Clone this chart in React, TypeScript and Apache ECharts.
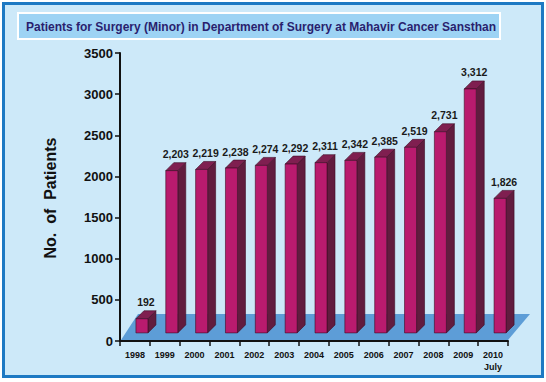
import React, { useEffect, useRef } from "react";
import * as echarts from "echarts";

const categories = ["1998", "1999", "2000", "2001", "2002", "2003", "2004", "2005", "2006", "2007", "2008", "2009", "2010\nJuly"];
const patients = [192, 2203, 2219, 2238, 2274, 2292, 2311, 2342, 2385, 2519, 2731, 3312, 1826];
const yTicks = { min: 0, max: 3500, interval: 500 };
const titleText = "Patients for Surgery (Minor) in Department of Surgery at Mahavir Cancer Sansthan";
const yAxisTitle = "No.  of  Patients";

const FONT = "Liberation Sans, Arial, sans-serif";

export default function App() {
  const ref = useRef<HTMLDivElement>(null);
  useEffect(() => {
    document.body.style.margin = "0";
    const chart = echarts.init(ref.current!, null, { renderer: "svg" });
    const DX = 8;
    const DY = 8;
    const option: any = {
      animation: false,
      backgroundColor: "#ffffff",
      graphic: [
        {
          type: "rect",
          z: -10,
          shape: { x: 3.5, y: 3.5, width: 539, height: 373 },
          style: { fill: "#cde9f9", stroke: "#1e79c3", lineWidth: 3 },
        },
        {
          type: "rect",
          z: -9,
          shape: { x: 18, y: 13, width: 482, height: 26 },
          style: { fill: "#9dd3f4", stroke: "#ffffff", lineWidth: 2 },
        },
        {
          type: "text",
          z: -8,
          x: 261,
          y: 26.5,
          style: {
            text: titleText,
            fill: "#2a1f6e",
            font: `bold 12px ${FONT}`,
            textAlign: "center",
            textVerticalAlign: "middle",
          },
        },
        {
          type: "text",
          z: -8,
          x: 50,
          y: 198,
          rotation: Math.PI / 2,
          style: {
            text: yAxisTitle,
            fill: "#111111",
            font: `bold 16px ${FONT}`,
            textAlign: "center",
            textVerticalAlign: "middle",
          },
        },
      ],
      grid: { left: 120, top: 53, width: 388, height: 288, containLabel: false },
      xAxis: {
        type: "category",
        data: categories,
        z: 5,
        boundaryGap: true,
        axisLine: { show: true, lineStyle: { color: "#111", width: 2 } },
        axisTick: { show: true, length: 5, interval: 0, lineStyle: { color: "#111", width: 1.5 } },
        axisLabel: {
          interval: 0,
          margin: 8,
          color: "#111",
          fontWeight: "bold",
          fontSize: 9,
          fontFamily: FONT,
          lineHeight: 12,
        },
        splitLine: { show: false },
      },
      yAxis: [
        {
          type: "value",
          min: yTicks.min,
          max: yTicks.max,
          interval: yTicks.interval,
          z: 5,
          axisLine: { show: true, lineStyle: { color: "#111", width: 2 } },
          axisTick: { show: true, length: 5, lineStyle: { color: "#111", width: 1.5 } },
          axisLabel: {
            margin: 7,
            color: "#111",
            fontWeight: "bold",
            fontSize: 13,
            fontFamily: FONT,
            formatter: (v: number) => String(v),
          },
          splitLine: { show: false },
        },
        { type: "value", min: -110, max: 3800, show: false },
      ],
      series: [
        {
          type: "custom",
          yAxisIndex: 0,
          z: 1,
          data: [[0, 0]],
          renderItem: (params: any, api: any) => {
            const bw = api.size([1, 0])[0];
            const p0 = api.coord([0, 0]);
            const left = p0[0] - bw / 2;
            const yb = p0[1];
            const right = api.coord([categories.length - 1, 0])[0] + bw / 2;
            return {
              type: "polygon",
              shape: {
                points: [
                  [left + 1, yb - 1],
                  [right, yb - 1],
                  [right + 22, yb - 27],
                  [left + 18, yb - 27],
                ],
              },
              style: { fill: "#5d9dd7" },
            };
          },
        },
        {
          type: "custom",
          yAxisIndex: 1,
          z: 2,
          data: patients.map((v, i) => [i, v]),
          renderItem: (params: any, api: any) => {
            const idx = api.value(0);
            const val = api.value(1);
            const top = api.coord([idx, val]);
            const base = api.coord([idx, 0]);
            const x0 = top[0] + 1;
            const w = 12;
            const yT = top[1];
            const yB = base[1];
            const stroke = "#3d0b24";
            return {
              type: "group",
              children: [
                {
                  type: "polygon",
                  shape: { points: [[x0 + w, yT], [x0 + w + DX, yT - DY], [x0 + w + DX, yB - DY], [x0 + w, yB]] },
                  style: { fill: "#611c3f", stroke, lineWidth: 0.6 },
                },
                {
                  type: "polygon",
                  shape: { points: [[x0, yT], [x0 + DX, yT - DY], [x0 + w + DX, yT - DY], [x0 + w, yT]] },
                  style: { fill: "#7f1f50", stroke, lineWidth: 0.6 },
                },
                {
                  type: "rect",
                  shape: { x: x0, y: yT, width: w, height: yB - yT },
                  style: { fill: "#b91b6e", stroke, lineWidth: 0.6 },
                },
                {
                  type: "text",
                  x: x0 + (w + DX) / 2,
                  y: yT - DY - 3,
                  style: {
                    text: val.toLocaleString("en-US"),
                    fill: "#1a1a1a",
                    font: `bold 10.5px ${FONT}`,
                    textAlign: "center",
                    textVerticalAlign: "bottom",
                  },
                },
              ],
            };
          },
        },
      ],
    };
    chart.setOption(option);
    return () => chart.dispose();
  }, []);
  return <div ref={ref} style={{ width: 546, height: 382 }} />;
}
